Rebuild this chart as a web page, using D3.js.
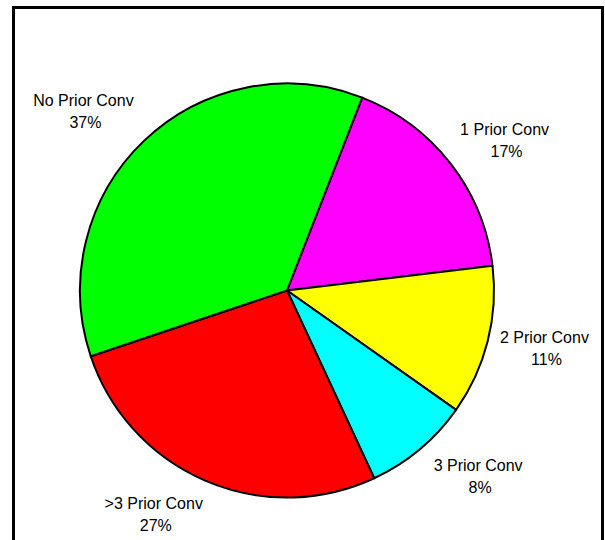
<!DOCTYPE html>
<html>
<head>
<meta charset="utf-8">
<script src="https://cdn.jsdelivr.net/npm/d3@7"></script>
<style>
  html, body { margin: 0; padding: 0; background: #ffffff; }
  svg { display: block; }
</style>
</head>
<body>
<svg id="chart" width="605" height="540"></svg>
<script>
// ---- data ----
const categories = ["1 Prior Conv", "2 Prior Conv", "3 Prior Conv", ">3 Prior Conv", "No Prior Conv"];
const values = [17.2, 11.7, 8.3, 26.8, 36.1];
const percentLabels = ["17%", "11%", "8%", "27%", "37%"];
const colors = ["#FF00FF", "#FFFF00", "#00FFFF", "#FF0000", "#00FF00"];

// ---- layout ----
const W = 605, H = 540;
const cx = 287, cy = 290.5, R = 207;
const startDeg = 21.3;
// label placement: angle (deg, clockwise from top) and distance from pie centre
const labelPlacement = [
  { angle: 55.5, dist: 264 },
  { angle: 102.8, dist: 264 },
  { angle: 134.3, dist: 267 },
  { angle: 210.7, dist: 261 },
  { angle: 311.3, dist: 271 }
];

const svg = d3.select("#chart");

// outer frame
svg.append("rect")
  .attr("x", 13.5).attr("y", 7.5)
  .attr("width", 589).attr("height", 600)
  .attr("fill", "#ffffff")
  .attr("stroke", "#000000")
  .attr("stroke-width", 3);

const start = startDeg * Math.PI / 180;
const pie = d3.pie().sort(null).value(d => d)
  .startAngle(start).endAngle(start + 2 * Math.PI);
const arc = d3.arc().innerRadius(0).outerRadius(R);

const g = svg.append("g").attr("transform", `translate(${cx},${cy})`);

g.selectAll("path.slice")
  .data(pie(values))
  .join("path")
  .attr("class", "slice")
  .attr("d", arc)
  .attr("fill", (d, i) => colors[i])
  .attr("stroke", "#000000")
  .attr("stroke-width", 2)
  .attr("stroke-linejoin", "round");

// labels
const lab = g.selectAll("g.label")
  .data(categories)
  .join("g")
  .attr("class", "label")
  .attr("transform", (d, i) => {
    const a = labelPlacement[i].angle * Math.PI / 180;
    const r = labelPlacement[i].dist;
    return `translate(${Math.sin(a) * r},${-Math.cos(a) * r})`;
  });

lab.append("text")
  .attr("y", -11)
  .attr("text-anchor", "middle")
  .attr("dominant-baseline", "central")
  .attr("font-family", "'Liberation Sans', Arial, sans-serif")
  .attr("font-size", 16)
  .attr("fill", "#000000")
  .text(d => d);

lab.append("text")
  .attr("x", 2)
  .attr("y", 11)
  .attr("text-anchor", "middle")
  .attr("dominant-baseline", "central")
  .attr("font-family", "'Liberation Sans', Arial, sans-serif")
  .attr("font-size", 16)
  .attr("fill", "#000000")
  .text((d, i) => percentLabels[i]);
</script>
</body>
</html>
